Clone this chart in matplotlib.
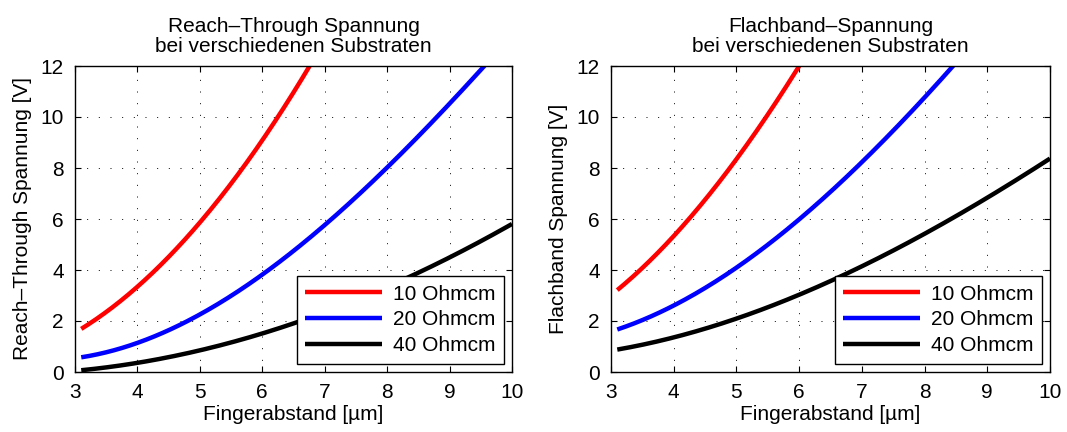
import matplotlib
matplotlib.use("Agg")
import numpy as np
import matplotlib.pyplot as plt
from matplotlib.ticker import MultipleLocator

plt.rcParams['font.family'] = ['Liberation Sans', 'DejaVu Sans']
plt.rcParams['font.size'] = 15

# Reach-Through Spannung (left)
x_rt_10 = [3.1, 3.5, 4.0, 4.5, 5.0, 5.5, 6.0, 6.25, 6.5, 6.77]
y_rt_10 = [1.66, 2.4, 3.35, 4.52, 5.83, 7.35, 9.1, 10.05, 11.0, 12.0]
x_rt_20 = [3.1, 4.0, 5.0, 6.0, 6.5, 7.0, 7.5, 8.0, 8.5, 9.0, 9.6]
y_rt_20 = [0.54, 1.19, 2.3, 3.8, 4.75, 5.67, 6.85, 7.98, 9.29, 10.7, 12.0]
x_rt_40 = [3.1, 4.0, 5.0, 5.6, 6.0, 6.4, 7.0, 7.5, 8.0, 8.4, 9.0, 9.5, 10.0]
y_rt_40 = [0.08, 0.34, 0.86, 1.19, 1.52, 1.84, 2.38, 2.83, 3.3, 3.75, 4.5, 5.15, 5.8]

# Flachband-Spannung (right)
x_fb_10 = [3.1, 3.5, 4.0, 4.5, 5.0, 5.5, 6.0]
y_fb_10 = [3.22, 4.07, 5.31, 6.81, 8.31, 10.1, 12.0]
x_fb_20 = [3.1, 4.0, 5.0, 6.0, 6.5, 7.0, 7.5, 8.0, 8.48]
y_fb_20 = [1.65, 2.63, 4.13, 5.96, 7.0, 8.18, 9.55, 10.85, 12.0]
x_fb_40 = [3.1, 4.0, 5.0, 6.0, 6.4, 7.0, 7.5, 8.0, 8.5, 9.0, 9.5, 10.0]
y_fb_40 = [0.86, 1.39, 2.1, 3.02, 3.45, 4.12, 4.75, 5.44, 6.12, 6.85, 7.6, 8.35]

labels = ['10 Ohmcm', '20 Ohmcm', '40 Ohmcm']
colors = ['#ff0000', '#0000ff', '#000000']

panels = [
    ([(x_rt_10, y_rt_10), (x_rt_20, y_rt_20), (x_rt_40, y_rt_40)],
     'Reach\u2013Through Spannung\nbei verschiedenen Substraten',
     'Reach\u2013Through Spannung [V]'),
    ([(x_fb_10, y_fb_10), (x_fb_20, y_fb_20), (x_fb_40, y_fb_40)],
     'Flachband\u2013Spannung\nbei verschiedenen Substraten',
     'Flachband Spannung [V]'),
]


def smooth(xs, ys):
    # cubic fit through the read points, only to draw a smooth curve
    p = np.polyfit(xs, ys, 3)
    xx = np.linspace(xs[0], xs[-1], 200)
    return xx, np.polyval(p, xx)


fig = plt.figure(figsize=(10.67, 4.32), dpi=100)
positions = [[75/1067, 1-372/432, 437/1067, 306/432],
             [611/1067, 1-372/432, 439/1067, 306/432]]

for pos, (series, title, ylabel) in zip(positions, panels):
    ax = fig.add_axes(pos)
    for (xs, ys), lab, c in zip(series, labels, colors):
        xx, yy = smooth(xs, ys)
        ax.plot(xx, yy, color=c, lw=3.2, label=lab, solid_capstyle='butt')
    ax.set_xlim(3, 10)
    ax.set_ylim(0, 12)
    ax.xaxis.set_major_locator(MultipleLocator(1))
    ax.yaxis.set_major_locator(MultipleLocator(2))
    ax.grid(True, color='black', linestyle=(0, (1, 11)), lw=0.7)
    ax.tick_params(direction='in', top=True, right=True, length=4, width=0.8, pad=8)
    for s in ax.spines.values():
        s.set_linewidth(1.0)
    ax.set_title(title, fontsize=15, linespacing=1.05, pad=10)
    ax.set_xlabel('Fingerabstand [\u00b5m]', labelpad=2)
    ax.set_ylabel(ylabel, labelpad=6)
    leg = ax.legend(loc='lower right', fancybox=False, framealpha=1,
                    edgecolor='black', borderaxespad=0.4, handlelength=3.7,
                    handletextpad=0.5, fontsize=15, labelspacing=0.33,
                    borderpad=0.4)
    leg.get_frame().set_linewidth(1.0)

fig.savefig('out.png', dpi=100)
